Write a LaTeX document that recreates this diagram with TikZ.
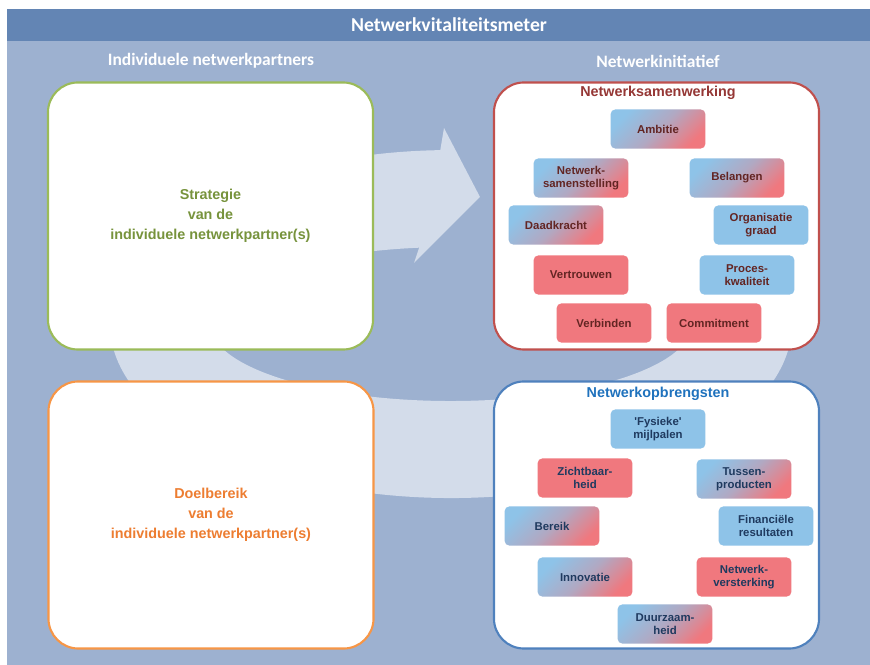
\documentclass[tikz,border=0pt]{standalone}
\usepackage{fontspec}
\setmainfont{Liberation Sans}
\newfontfamily\kopfont{Carlito}
\definecolor{vlak}{HTML}{9DB1D0}
\definecolor{balk}{HTML}{6385B4}
\definecolor{ring}{HTML}{D3DCEA}
\definecolor{groen}{HTML}{9BBB59}
\definecolor{groentekst}{HTML}{77933C}
\definecolor{oranje}{HTML}{F79646}
\definecolor{oranjetekst}{HTML}{ED7D31}
\definecolor{rood}{HTML}{C0504D}
\definecolor{roodtekst}{HTML}{953735}
\definecolor{blauw}{HTML}{4F81BD}
\definecolor{blauwtekst}{HTML}{1F72BD}
\definecolor{kleinblauw}{HTML}{8EC3E8}
\definecolor{kleinrood}{HTML}{F0787E}
\definecolor{donkerrood}{HTML}{632523}
\definecolor{donkerblauw}{HTML}{1F3A5F}
\begin{document}
\begin{tikzpicture}[x=0.025cm, y=0.025cm,
	groot/.style={draw, rectangle, rounded corners=0.75cm, line width=1.5pt, fill=white, minimum width=8.125cm, minimum height=6.675cm, align=center, font=\fontsize{10.2}{14.2}\selectfont\bfseries},
	klein/.style={rectangle, rounded corners=0.12cm, minimum width=2.37cm, minimum height=0.98cm, inner sep=1pt, align=center, font=\fontsize{8.1}{9}\selectfont\bfseries},
	blauwvak/.style={klein, fill=kleinblauw},
	roodvak/.style={klein, fill=kleinrood},
	mengvak/.style={klein, left color=kleinblauw, right color=kleinrood, middle color=kleinblauw!65!kleinrood, shading angle=45},
	kop/.style={text=white, font=\kopfont\fontsize{12.4}{14}\selectfont\bfseries},
	vakkop/.style={font=\fontsize{10.2}{12}\selectfont\bfseries}]
	\useasboundingbox (0,0) rectangle (870,665);
	\fill[vlak] (7,0) rectangle (870,656);
	\fill[balk] (7,624) rectangle (870,656);
	\fill[ring] (712.2,452.8) arc[start angle=40, end angle=-268.2, x radius=341, y radius=174] -- (444,537) -- (480,468) -- (414,402) -- (419.1,417.3) arc[start angle=-262.4, end angle=40, x radius=241, y radius=77] -- cycle;
	\node[kop, font=\kopfont\fontsize{14}{16}\selectfont\bfseries] (Netwerkvitaliteitsmeter) at (449,640) {Netwerkvitaliteitsmeter};
	\node[kop] (Individuele netwerkpartners) at (211,604) {Individuele netwerkpartners};
	\node[kop] (Netwerkinitiatief) at (658,604) {Netwerkinitiatief};
	\node[groot, draw=groen, text=groentekst] (Strategie) at (210.5,449) {Strategie\\van de\\individuele netwerkpartner(s)};
	\node[groot, draw=oranje, text=oranjetekst] (Doelbereik) at (211,150) {Doelbereik\\van de\\individuele netwerkpartner(s)};
	\node[groot, draw=rood] (Samenwerking) at (656.5,449) {};
	\node[groot, draw=blauw] (Opbrengsten) at (656.5,150) {};
	\node[vakkop, text=roodtekst] (Netwerksamenwerking) at (658,572) {Netwerksamenwerking};
	\node[vakkop, text=blauwtekst] (Netwerkopbrengsten) at (658,271) {Netwerkopbrengsten};
	\node[mengvak, text=donkerrood] (Ambitie) at (658,536) {Ambitie};
	\node[mengvak, text=donkerrood] (Netwerk samenstelling) at (581,487) {Netwerk-\\samenstelling};
	\node[mengvak, text=donkerrood] (Belangen) at (737,487) {Belangen};
	\node[mengvak, text=donkerrood] (Daadkracht) at (556,440) {Daadkracht};
	\node[blauwvak, text=donkerrood] (Organisatie graad) at (761,440) {Organisatie\\graad};
	\node[roodvak, text=donkerrood] (Vertrouwen) at (581,390) {Vertrouwen};
	\node[blauwvak, text=donkerrood] (Proces kwaliteit) at (747,390) {Proces-\\kwaliteit};
	\node[roodvak, text=donkerrood] (Verbinden) at (604,342) {Verbinden};
	\node[roodvak, text=donkerrood] (Commitment) at (714,342) {Commitment};
	\node[blauwvak, text=donkerblauw] (Fysieke mijlpalen) at (658,236) {\textquotesingle Fysieke\textquotesingle\\mijlpalen};
	\node[roodvak, text=donkerblauw] (Zichtbaarheid) at (585,187) {Zichtbaar-\\heid};
	\node[mengvak, text=donkerblauw] (Tussenproducten) at (744,186) {Tussen-\\producten};
	\node[mengvak, text=donkerblauw] (Bereik) at (552,139) {Bereik};
	\node[blauwvak, text=donkerblauw] (Financiele resultaten) at (766,139) {Financiële\\resultaten};
	\node[mengvak, text=donkerblauw] (Innovatie) at (585,88) {Innovatie};
	\node[roodvak, text=donkerblauw] (Netwerkversterking) at (744,88) {Netwerk-\\versterking};
	\node[mengvak, text=donkerblauw] (Duurzaamheid) at (665,41) {Duurzaam-\\heid};
\end{tikzpicture}
\end{document}
